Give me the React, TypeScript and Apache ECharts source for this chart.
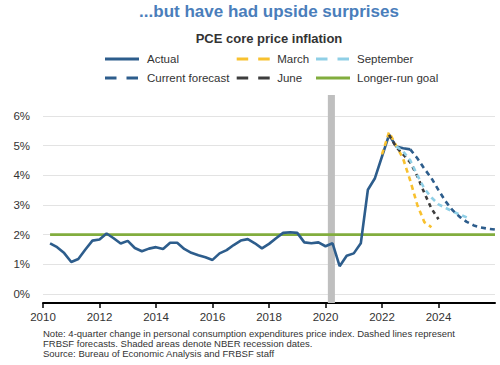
import React, { useEffect, useRef } from "react";
import * as echarts from "echarts";

// ---------- data ----------
const actualQuarters = [
  "2010Q1", "2010Q2", "2010Q3", "2010Q4",
  "2011Q1", "2011Q2", "2011Q3", "2011Q4",
  "2012Q1", "2012Q2", "2012Q3", "2012Q4",
  "2013Q1", "2013Q2", "2013Q3", "2013Q4",
  "2014Q1", "2014Q2", "2014Q3", "2014Q4",
  "2015Q1", "2015Q2", "2015Q3", "2015Q4",
  "2016Q1", "2016Q2", "2016Q3", "2016Q4",
  "2017Q1", "2017Q2", "2017Q3", "2017Q4",
  "2018Q1", "2018Q2", "2018Q3", "2018Q4",
  "2019Q1", "2019Q2", "2019Q3", "2019Q4",
  "2020Q1", "2020Q2", "2020Q3", "2020Q4",
  "2021Q1", "2021Q2", "2021Q3", "2021Q4",
  "2022Q1", "2022Q2", "2022Q3", "2022Q4",
];
const actualValues = [
  1.71, 1.58, 1.38, 1.08,
  1.18, 1.5, 1.8, 1.84,
  2.04, 1.88, 1.7, 1.79,
  1.55, 1.44, 1.53, 1.58,
  1.52, 1.73, 1.73, 1.52,
  1.39, 1.31, 1.24, 1.15,
  1.37, 1.48, 1.65, 1.8,
  1.85, 1.71, 1.54, 1.69,
  1.88, 2.06, 2.08, 2.06,
  1.74, 1.71, 1.74, 1.61,
  1.71, 0.94, 1.29, 1.37,
  1.71, 3.51, 3.9, 4.63,
  5.36, 4.97, 4.91, 4.87,
];

const marchQuarters = ["2021Q4", "2022Q1", "2022Q2", "2022Q3", "2022Q4", "2023Q1", "2023Q2", "2023Q3"];
const marchValues = [4.7, 5.45, 5.0, 4.55, 3.82, 3.0, 2.42, 2.25];

const juneQuarters = ["2022Q1", "2022Q2", "2022Q3", "2022Q4", "2023Q1", "2023Q2", "2023Q3", "2023Q4"];
const juneValues = [5.36, 4.95, 4.7, 4.43, 3.97, 3.4, 2.88, 2.52];

const septemberQuarters = ["2022Q2", "2022Q3", "2022Q4", "2023Q1", "2023Q2", "2023Q3", "2023Q4", "2024Q1", "2024Q2", "2024Q3", "2024Q4"];
const septemberValues = [4.97, 4.8, 4.5, 4.0, 3.55, 3.25, 3.02, 2.9, 2.78, 2.68, 2.58];

const currentQuarters = ["2022Q4", "2023Q1", "2023Q2", "2023Q3", "2023Q4", "2024Q1", "2024Q2", "2024Q3", "2024Q4", "2025Q1", "2025Q2", "2025Q3", "2025Q4"];
const currentValues = [4.87, 4.57, 4.22, 3.9, 3.5, 3.12, 2.82, 2.6, 2.43, 2.31, 2.24, 2.2, 2.17];

const goalQuarters = ["2010Q1", "2025Q4"];
const goalValues = [2, 2];

const recessionMonths = ["2020-02", "2020-05"];

const yTicks = [0, 1, 2, 3, 4, 5, 6];
const xTicks = [2010, 2012, 2014, 2016, 2018, 2020, 2022, 2024];

const titleText = "...but have had upside surprises";
const subtitleText = "PCE core price inflation";
const noteLines = [
  "Note: 4-quarter change in personal consumption expenditures price index. Dashed lines represent",
  "FRBSF forecasts. Shaded areas denote NBER recession dates.",
  "Source: Bureau of Economic Analysis and FRBSF staff",
];

// ---------- helpers ----------
const qToYear = (q: string) => {
  const [y, n] = q.split("Q");
  return Number(y) + Number(n) / 4;
};
const mToYear = (m: string) => {
  const [y, mm] = m.split("-");
  return Number(y) + (Number(mm) - 1) / 12;
};
const pairs = (qs: string[], vs: number[]) => qs.map((q, i) => [qToYear(q), vs[i]]);

const FONT = '"Liberation Sans", Arial, Helvetica, sans-serif';
const BLUE = "#2d5d8c";
const YELLOW = "#f8c12f";
const LIGHTBLUE = "#8fcfe6";
const DARKGRAY = "#3d3d3d";
const GREEN = "#82ad3e";

const SOLID34 = "path://M0,0h34v3h-34z";
const DASH33 = "path://M0,0h11.5v3h-11.5z M21.5,0h11.5v3h-11.5z";

function legendItem(name: string, left: number, top: number, icon: string, w: number, pad: number) {
  return {
    left,
    top,
    padding: 0,
    orient: "horizontal",
    itemWidth: w,
    itemHeight: 3,
    selectedMode: false,
    symbolKeepAspect: false,
    itemStyle: { borderWidth: 0 },
    textStyle: {
      fontFamily: FONT,
      fontSize: 11.5,
      color: "#333",
      lineHeight: 14,
      padding: [0, 0, 0, pad],
    },
    data: [{ name, icon }],
  };
}

export default function App() {
  const ref = useRef<HTMLDivElement>(null);

  useEffect(() => {
    if (!ref.current) return;
    const chart = echarts.init(ref.current, null, { renderer: "svg" });

    const lineBase = (name: string, data: number[][], color: string, dash: any, z: number) => ({
      name,
      type: "line",
      data,
      symbol: "none",
      showSymbol: false,
      z,
      color,
      lineStyle: { color, width: 2.6, type: dash, cap: "butt" },
      emphasis: { disabled: true },
    });

    const option: any = {
      animation: false,
      grid: { left: 43, right: 5, top: 95, bottom: 62, containLabel: false },
      xAxis: {
        type: "value",
        min: 2010,
        max: 2026,
        axisLine: { show: true, onZero: false, lineStyle: { color: "#000", width: 2 } },
        axisTick: { show: true, length: 5, customValues: xTicks, lineStyle: { color: "#000", width: 1.5 } },
        axisLabel: {
          customValues: xTicks,
          formatter: (v: number) => String(v),
          fontFamily: FONT,
          fontSize: 11.5,
          color: "#333",
          margin: 8,
        },
        splitLine: { show: false },
      },
      yAxis: {
        type: "value",
        min: -0.3,
        max: 6.7,
        axisLine: { show: false },
        axisTick: { show: false, customValues: yTicks },
        axisLabel: {
          customValues: yTicks,
          formatter: (v: number) => v + "%",
          fontFamily: FONT,
          fontSize: 11.5,
          color: "#333",
          margin: 13,
        },
        splitLine: { show: true, lineStyle: { color: "#e3e3e3", width: 1 } },
      },
      legend: [
        legendItem("Actual", 105, 52, SOLID34, 34, 3),
        legendItem("Current forecast", 105, 71, DASH33, 33, 4),
        legendItem("March", 236.7, 52, DASH33, 33, 2.5),
        legendItem("June", 236.7, 71, DASH33, 33, 2.5),
        legendItem("September", 316, 52, DASH33, 33, 3),
        legendItem("Longer-run goal", 316, 71, SOLID34, 34, 2),
      ],
      graphic: [
        {
          type: "text",
          x: 269,
          y: 11,
          style: {
            text: titleText,
            fill: "#4a7ebb",
            font: `bold 17px ${FONT}`,
            align: "center",
            textAlign: "center",
            verticalAlign: "middle",
            textVerticalAlign: "middle",
          },
        },
        {
          type: "text",
          x: 269,
          y: 38,
          style: {
            text: subtitleText,
            fill: "#333",
            font: `bold 13px ${FONT}`,
            align: "center",
            textAlign: "center",
            verticalAlign: "middle",
            textVerticalAlign: "middle",
          },
        },
        ...noteLines.map((t, i) => ({
          type: "text",
          x: 43,
          y: [333.5, 343.2, 353][i],
          style: {
            text: t,
            fill: "#333",
            font: `9.5px ${FONT}`,
            align: "left",
            textAlign: "left",
            verticalAlign: "middle",
            textVerticalAlign: "middle",
          },
        })),
      ],
      series: [
        {
          name: "recession",
          type: "line",
          data: [],
          z: 1,
          silent: true,
          markArea: {
            silent: true,
            itemStyle: { color: "#bfbfbf" },
            data: [[{ xAxis: mToYear(recessionMonths[0]) }, { xAxis: mToYear(recessionMonths[1]) }]],
          },
        },
        lineBase("Longer-run goal", pairs(goalQuarters, goalValues), GREEN, "solid", 2),
        lineBase("Actual", pairs(actualQuarters, actualValues), BLUE, "solid", 3),
        lineBase("March", pairs(marchQuarters, marchValues), YELLOW, [5, 4], 4),
        lineBase("June", pairs(juneQuarters, juneValues), DARKGRAY, [4, 4], 5),
        lineBase("September", pairs(septemberQuarters, septemberValues), LIGHTBLUE, [5, 4], 6),
        lineBase("Current forecast", pairs(currentQuarters, currentValues), BLUE, [5, 4], 7),
      ],
    };

    chart.setOption(option);
    return () => chart.dispose();
  }, []);

  return (
    <div
      ref={ref}
      style={{ position: "absolute", left: 0, top: 0, width: 500, height: 365 }}
    />
  );
}
